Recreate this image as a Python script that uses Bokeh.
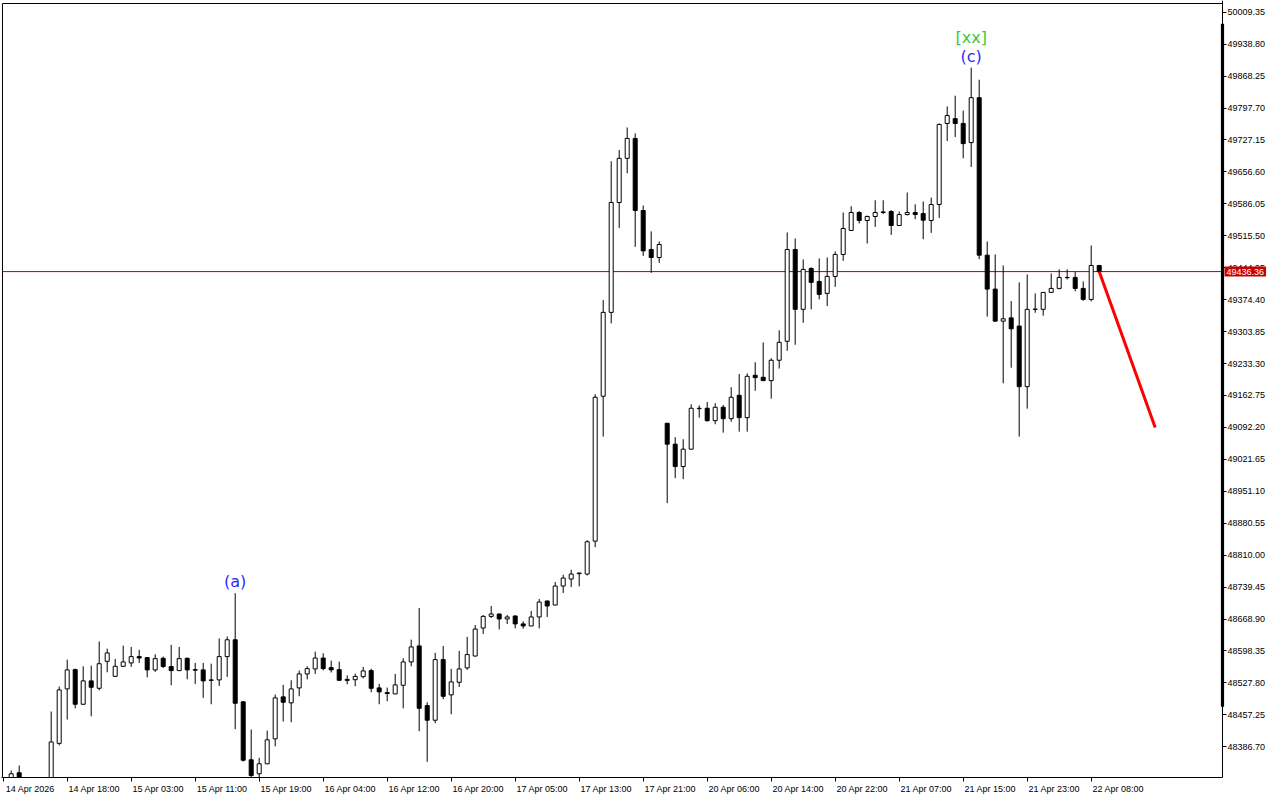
from bokeh.plotting import figure
from bokeh.models import Range1d, FixedTicker, PrintfTickFormatter, Label, ColumnDataSource, LinearAxis
from bokeh.core.properties import value
from bokeh.embed import file_html
from bokeh.resources import INLINE

# ---------------- data (hourly bars) ----------------
opens = [
    48300.0, 48308.0, 48329.3, 48292.5, 48262.0, 48280.0, 48292.0, 48394.3, 48514.6, 48557.2,
    48480.7, 48532.3, 48516.0, 48575.5, 48542.4, 48564.5, 48572.0, 48585.9, 48583.7, 48556.6,
    48582.2, 48563.9, 48555.0, 48582.2, 48557.2, 48556.6, 48534.5, 48534.5, 48585.9, 48623.1,
    48486.0, 48358.0, 48327.1, 48349.2, 48404.3, 48497.0, 48483.8, 48516.8, 48547.7, 48558.7,
    48582.8, 48561.6, 48557.2, 48535.6, 48534.9, 48541.6, 48555.0, 48516.8, 48506.5, 48503.6,
    48522.6, 48574.2, 48609.5, 48477.8, 48445.4, 48579.3, 48501.4, 48529.2, 48561.0, 48587.2,
    48649.0, 48674.8, 48680.1, 48669.1, 48675.7, 48658.1, 48653.7, 48673.5, 48708.8, 48699.9,
    48741.8, 48757.3, 48769.0, 48768.3, 48840.9, 49161.0, 49346.3, 49588.9, 49686.6, 49730.5,
    49571.3, 49485.2, 49467.5, 49101.4, 49055.1, 49005.7, 49044.1, 49133.6, 49134.5, 49107.1,
    49136.7, 49111.5, 49163.1, 49113.7, 49207.3, 49202.9, 49195.5, 49240.5, 49282.4, 49485.2,
    49353.0, 49443.4, 49414.7, 49388.2, 49425.7, 49474.2, 49527.2, 49566.9, 49549.2, 49558.0,
    49568.2, 49569.1, 49538.2, 49562.4, 49566.9, 49564.6, 49549.2, 49584.5, 49763.6, 49774.2,
    49763.6, 49721.3, 49820.5, 49472.7, 49397.7, 49326.9, 49334.2, 49316.1, 49182.2, 49353.0,
    49353.0, 49390.4, 49399.2, 49423.5, 49423.5, 49399.2, 49374.9, 49449.9,
]
highs = [
    48312.0, 48334.4, 48345.4, 48300.0, 48290.0, 48298.0, 48464.6, 48519.7, 48579.3, 48559.4,
    48564.5, 48566.0, 48619.4, 48603.5, 48580.8, 48610.2, 48607.3, 48601.0, 48584.5, 48591.0,
    48585.9, 48611.7, 48607.3, 48583.7, 48572.0, 48572.0, 48570.4, 48626.0, 48630.4, 48726.0,
    48487.3, 48424.8, 48362.4, 48422.6, 48502.1, 48523.5, 48533.6, 48555.0, 48564.5, 48596.9,
    48593.2, 48577.1, 48574.9, 48544.5, 48548.1, 48563.2, 48559.4, 48525.7, 48517.5, 48547.7,
    48582.2, 48623.4, 48693.3, 48485.1, 48594.1, 48609.5, 48558.7, 48598.5, 48629.4, 48655.6,
    48677.8, 48697.7, 48681.0, 48677.8, 48676.5, 48663.8, 48686.7, 48713.2, 48709.5, 48750.6,
    48766.8, 48777.8, 48771.5, 48843.1, 49165.4, 49373.4, 49680.0, 49704.9, 49754.7, 49741.6,
    49582.3, 49525.2, 49502.8, 49102.0, 49070.5, 49066.1, 49143.3, 49141.1, 49148.4, 49145.5,
    49141.8, 49180.8, 49210.2, 49211.7, 49236.1, 49279.9, 49244.9, 49306.7, 49522.7, 49509.5,
    49463.3, 49445.6, 49465.4, 49467.6, 49480.8, 49566.9, 49580.7, 49569.7, 49560.3, 49594.0,
    49594.0, 49571.9, 49569.1, 49610.9, 49585.1, 49591.1, 49599.9, 49763.6, 49801.1, 49824.9,
    49791.9, 49886.7, 49860.2, 49502.9, 49474.2, 49449.9, 49371.2, 49412.5, 49430.1, 49388.2,
    49390.9, 49432.3, 49441.2, 49441.2, 49435.8, 49414.6, 49494.0, 49450.5,
]
lows = [
    48290.0, 48303.5, 48281.5, 48255.0, 48250.0, 48270.0, 48285.0, 48389.9, 48446.9, 48471.8,
    48479.0, 48454.2, 48511.5, 48551.3, 48541.0, 48563.5, 48563.2, 48572.0, 48540.2, 48552.1,
    48560.8, 48522.6, 48554.0, 48535.8, 48525.7, 48494.8, 48480.7, 48521.2, 48541.1, 48425.5,
    48354.2, 48319.6, 48317.9, 48348.5, 48387.7, 48442.5, 48440.9, 48498.4, 48535.8, 48547.7,
    48555.7, 48550.8, 48533.0, 48524.8, 48520.4, 48538.0, 48507.1, 48480.7, 48487.3, 48503.0,
    48471.8, 48564.5, 48421.1, 48353.5, 48438.8, 48491.7, 48458.6, 48519.0, 48556.6, 48586.5,
    48636.1, 48671.2, 48646.0, 48658.1, 48648.3, 48647.6, 48653.0, 48648.3, 48673.5, 48699.0,
    48726.5, 48739.6, 48741.0, 48765.2, 48827.7, 49071.8, 49322.0, 49532.9, 49653.5, 49491.0,
    49471.1, 49433.5, 49455.6, 48924.9, 48980.1, 48977.9, 49043.5, 49113.7, 49104.9, 49099.2,
    49080.6, 49104.9, 49082.8, 49082.8, 49173.1, 49195.0, 49155.7, 49222.2, 49261.4, 49274.8,
    49323.3, 49353.0, 49375.0, 49360.2, 49402.7, 49460.1, 49526.5, 49542.6, 49498.4, 49535.1,
    49563.1, 49517.4, 49537.5, 49560.3, 49552.1, 49507.9, 49521.8, 49554.9, 49724.8, 49733.6,
    49686.6, 49667.4, 49463.9, 49336.9, 49325.6, 49189.6, 49224.1, 49071.8, 49133.6, 49345.4,
    49338.8, 49390.0, 49397.0, 49419.1, 49392.6, 49371.9, 49370.5, 49436.0,
]
closes = [
    48305.0, 48327.1, 48292.5, 48262.0, 48280.0, 48290.0, 48397.4, 48512.4, 48556.6, 48480.7,
    48532.3, 48518.2, 48570.2, 48594.1, 48564.5, 48574.2, 48585.9, 48582.8, 48556.6, 48581.5,
    48563.9, 48555.0, 48581.5, 48556.6, 48556.0, 48532.3, 48533.5, 48585.9, 48623.1, 48482.9,
    48357.1, 48323.2, 48349.2, 48402.1, 48494.8, 48485.1, 48514.6, 48547.7, 48559.4, 48582.8,
    48559.4, 48556.6, 48533.6, 48533.4, 48542.2, 48554.3, 48516.0, 48508.0, 48504.3, 48523.5,
    48574.2, 48607.3, 48471.8, 48445.4, 48579.3, 48498.3, 48530.1, 48558.7, 48590.4, 48646.8,
    48674.8, 48680.1, 48669.1, 48673.5, 48658.1, 48653.7, 48673.5, 48706.5, 48697.7, 48741.8,
    48759.5, 48768.3, 48770.5, 48839.6, 49158.8, 49346.3, 49588.9, 49686.6, 49730.5, 49571.3,
    49482.1, 49467.5, 49496.2, 49055.1, 49005.7, 49044.1, 49134.5, 49134.5, 49107.1, 49136.7,
    49111.5, 49158.8, 49113.7, 49205.1, 49202.1, 49195.5, 49240.5, 49280.2, 49485.2, 49353.0,
    49441.2, 49412.5, 49386.0, 49425.7, 49474.2, 49531.6, 49566.9, 49549.2, 49558.0, 49566.9,
    49567.0, 49538.2, 49562.4, 49566.9, 49562.4, 49549.9, 49584.5, 49761.4, 49781.2, 49763.6,
    49719.0, 49820.5, 49472.7, 49397.7, 49326.9, 49332.1, 49310.0, 49182.2, 49353.0, 49353.5,
    49390.4, 49399.2, 49423.5, 49423.0, 49399.2, 49374.9, 49449.9, 49436.36,
]

time_tick_bars = [0, 8, 16, 24, 32, 40, 48, 56, 64, 72, 80, 88, 96, 104, 112, 120, 128, 136]
time_tick_labels = [
    "14 Apr 2026", "14 Apr 18:00", "15 Apr 03:00", "15 Apr 11:00", "15 Apr 19:00",
    "16 Apr 04:00", "16 Apr 12:00", "16 Apr 20:00", "17 Apr 05:00", "17 Apr 13:00",
    "17 Apr 21:00", "20 Apr 06:00", "20 Apr 14:00", "20 Apr 22:00", "21 Apr 07:00",
    "21 Apr 15:00", "21 Apr 23:00", "22 Apr 08:00",
]
price_ticks = [
    48386.70, 48457.25, 48527.80, 48598.35, 48668.90, 48739.45, 48810.00, 48880.55,
    48951.10, 49021.65, 49092.20, 49162.75, 49233.30, 49303.85, 49374.40, 49444.95,
    49515.50, 49586.05, 49656.60, 49727.15, 49797.70, 49868.25, 49938.80, 50009.35,
]
current_price = 49436.36
proj_bars = [137, 144]
proj_prices = [49436.36, 49092.20]
wave_bars = [29, 121]
wave_text = ["(a)", "(c)"]
degree_bars = [121]
degree_text = ["[xx]"]
scale_bar = [48475.0, 49983.8]

# ---------------- layout constants ----------------
PAGE_W, PAGE_H = 1272, 796
PX_PER_BAR = 8.0
X_START = -0.3375                 # left edge of the canvas, in bars
X_BORDER = -0.09                  # left border of the chart area
X_AXIS = 152.4125                 # price-scale line
X_END = X_START + PAGE_W / PX_PER_BAR
Y_HIGH = 50035.16                 # price at the top edge of the canvas
Y_BORDER = 50028.5                # top border of the chart area
Y_LOW = 48318.9                   # price at the bottom of the chart area
LABEL_SHIFT = 3.375
AXIS_FONT = "Liberation Sans"

bars = list(range(len(opens)))
up_idx = [i for i in bars if closes[i] >= opens[i]]
dn_idx = [i for i in bars if closes[i] < opens[i]]

def body(idx):
    return ColumnDataSource(dict(
        x=[bars[i] for i in idx],
        top=[max(opens[i], closes[i]) for i in idx],
        bottom=[min(opens[i], closes[i]) for i in idx],
    ))

p = figure(width=PAGE_W, height=PAGE_H, output_backend="svg", toolbar_location=None,
           x_range=Range1d(X_START, X_END), y_range=Range1d(Y_LOW, Y_HIGH),
           y_axis_location=None, min_border_left=0, min_border_top=0,
           min_border_right=0, min_border_bottom=0)
p.background_fill_color = "white"
p.border_fill_color = "white"
p.outline_line_color = None
p.grid.visible = False

# chart-area borders (top and left); bottom is the time axis, right is the price axis
p.segment(x0=[X_BORDER, X_BORDER], y0=[Y_BORDER, Y_LOW], x1=[X_AXIS, X_BORDER], y1=[Y_BORDER, Y_BORDER],
          line_color="black", line_width=1)

# current price line
p.segment(x0=[X_BORDER], y0=[current_price], x1=[X_AXIS], y1=[current_price],
          line_color="#B40000", line_width=1)

# candles
p.segment(x0=bars, y0=lows, x1=bars, y1=highs, line_color="black", line_width=1)
p.vbar(x="x", top="top", bottom="bottom", width=0.5, source=body(up_idx),
       fill_color="white", line_color="black", line_width=1)
p.vbar(x="x", top="top", bottom="bottom", width=0.5, source=body(dn_idx),
       fill_color="black", line_color="black", line_width=1)

# projection line
p.line(proj_bars, proj_prices, line_color="#FF0000", line_width=3)

# wave labels
p.text(x=wave_bars, y=[highs[i] for i in wave_bars], text=wave_text,
       text_align="center", text_baseline="bottom", y_offset=-2,
       text_color="#2A2AFF", text_font=value("DejaVu Sans"), text_font_size="16px")
p.text(x=degree_bars, y=[highs[i] for i in degree_bars], text=degree_text,
       text_align="center", text_baseline="bottom", y_offset=-21,
       text_color="#3CC83C", text_font=value("DejaVu Sans"), text_font_size="16px")

# time axis: minor ticks mark the times, major (invisible) ticks carry the labels
xa = p.xaxis[0]
xa.bounds = (X_BORDER, X_AXIS)
xa.ticker = FixedTicker(ticks=[b + LABEL_SHIFT for b in time_tick_bars],
                        minor_ticks=time_tick_bars)
xa.major_label_overrides = {b + LABEL_SHIFT: t for b, t in zip(time_tick_bars, time_tick_labels)}
xa.major_tick_in = 0
xa.major_tick_out = 0
xa.major_tick_line_color = None
xa.minor_tick_in = 0
xa.minor_tick_out = 4
xa.minor_tick_line_color = "black"
xa.major_label_standoff = 2
xa.axis_line_color = "black"
xa.major_label_text_font = AXIS_FONT
xa.major_label_text_font_size = "9px"
xa.major_label_text_color = "black"

# price axis, fixed at the right edge of the chart area
ya = LinearAxis(fixed_location=X_AXIS)
ya.ticker = FixedTicker(ticks=price_ticks, minor_ticks=[])
ya.formatter = PrintfTickFormatter(format="%.2f")
ya.major_tick_in = 0
ya.major_tick_out = 4
ya.major_tick_line_color = "black"
ya.minor_tick_line_color = None
ya.major_label_standoff = 1
ya.axis_line_color = "black"
ya.major_label_text_font = AXIS_FONT
ya.major_label_text_font_size = "9px"
ya.major_label_text_color = "black"
p.add_layout(ya, "right")

# scale marker on the price axis
p.quad(left=[X_AXIS - 0.2], right=[X_AXIS + 0.2], bottom=[scale_bar[0]], top=[scale_bar[1]],
       fill_color="black", line_color=None)

# current price tag
p.add_layout(Label(x=X_AXIS, y=current_price, x_offset=2, text=f"{current_price:.2f}",
                   text_color="white", text_font=AXIS_FONT, text_font_size="9px",
                   text_baseline="middle", text_align="left",
                   background_fill_color="#C80000", padding=2))

open("out.html", "w").write(file_html(p, INLINE))
